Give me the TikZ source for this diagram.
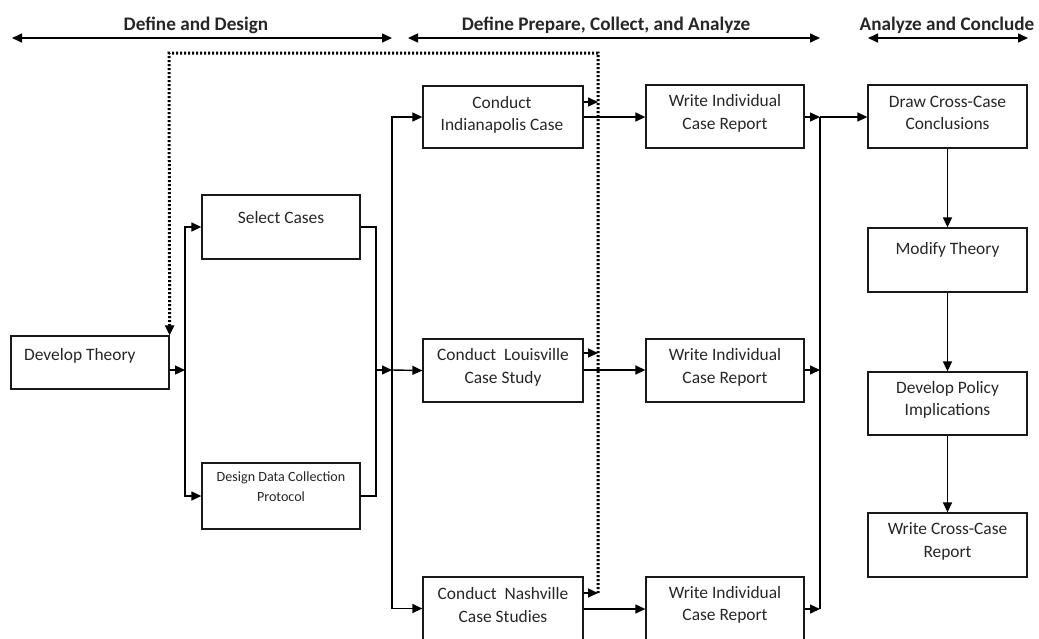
\documentclass[tikz,border=0pt]{standalone}
\usepackage{fontspec}
\setmainfont{Carlito}
\usetikzlibrary{arrows.meta}
\begin{document}
\begin{tikzpicture}[x=1pt,y=-1pt,
  box/.style={draw=black!90,line width=1.3pt,rectangle,inner sep=0pt,
    align=center,text=black!85,font=\fontsize{17.4}{22.5}\selectfont},
  txt/.style={inner sep=0pt,align=center,text=black!85,
    font=\fontsize{17.4}{22.5}\selectfont},
  head/.style={inner sep=0pt,text=black!85,font=\fontsize{19.2}{23}\selectfont\bfseries},
  tip/.style={-{Triangle[length=10pt,width=9pt]}},
  line/.style={draw=black,line width=1.4pt},
  arr/.style={line,tip},
  span/.style={line,{Triangle[length=10pt,width=9pt]}-{Triangle[length=10pt,width=9pt]}},
  dotline/.style={draw=black,line width=3pt,dash pattern=on 2pt off 2pt,
    -{Triangle[length=10pt,width=9pt]}}
]
\useasboundingbox (0,0) rectangle (1039,638);

% phase headers
\node[head] (hA) at (196,25) {Define and Design};
\node[head] (hB) at (606,25) {Define Prepare, Collect, and Analyze};
\node[head] (hC) at (947,25) {Analyze and Conclude};
\coordinate (a1) at (12,38);  \coordinate (a2) at (392,38);
\coordinate (b1) at (408,38); \coordinate (b2) at (820,38);
\coordinate (c1) at (868,38); \coordinate (c2) at (1028,38);
\draw[span] (a1) -- (a2);
\draw[span] (b1) -- (b2);
\draw[span] (c1) -- (c2);

% design stage
\node[box,minimum width=158pt,minimum height=53pt] (theory) at (90,362.5) {};
\node[txt,anchor=west] (theoryT) at (24,356) {Develop Theory};
\node[box,minimum width=158pt,minimum height=64pt] (select) at (281,227) {};
\node[txt] (selectT) at (281,218) {Select Cases};
\node[box,minimum width=158pt,minimum height=66pt] (design) at (281,496) {};
\node[txt,font=\fontsize{14.1}{20}\selectfont] (designT) at (281,487) {Design Data Collection\\Protocol};

% case studies
\node[box,minimum width=160pt,minimum height=62pt] (indy) at (503,117) {};
\node[txt] (indyT) at (502,115) {Conduct\\Indianapolis Case};
\node[box,minimum width=160pt,minimum height=63pt] (louis) at (503,370.5) {};
\node[txt] (louisT) at (503,367.5) {Conduct\ \ Louisville\\Case Study};
\node[box,minimum width=160pt,minimum height=63pt] (nash) at (503,608.5) {};
\node[txt] (nashT) at (503,605) {Conduct\ \ Nashville\\Case Studies};

% individual reports
\node[box,minimum width=158pt,minimum height=63pt] (w1) at (725,116.5) {};
\node[txt] (w1T) at (725,113.5) {Write Individual\\Case Report};
\node[box,minimum width=158pt,minimum height=63pt] (w2) at (725,370.5) {};
\node[txt] (w2T) at (725,367.5) {Write Individual\\Case Report};
\node[box,minimum width=158pt,minimum height=63pt] (w3) at (725,608.5) {};
\node[txt] (w3T) at (725,605) {Write Individual\\Case Report};

% cross-case stage
\node[box,minimum width=159pt,minimum height=63pt] (drawc) at (947.5,116.5) {};
\node[txt] (drawcT) at (947.5,113) {Draw Cross-Case\\Conclusions};
\node[box,minimum width=159pt,minimum height=64pt] (modify) at (947.5,260) {};
\node[txt] (modifyT) at (947.5,250) {Modify Theory};
\node[box,minimum width=159pt,minimum height=63pt] (policy) at (947.5,403.5) {};
\node[txt] (policyT) at (947.5,400) {Develop\ Policy\\Implications};
\node[box,minimum width=159pt,minimum height=64pt] (report) at (947.5,545) {};
\node[txt] (reportT) at (947.5,541.5) {Write Cross-Case\\Report};

% junction points
\coordinate (j1) at (185,370);
\coordinate (j2) at (376,370);
\coordinate (j3) at (392,370);
\coordinate (k1) at (820,117);
\coordinate (k2) at (820,370);
\coordinate (k3) at (820,609);
\coordinate (d1) at (598,102);
\coordinate (d2) at (598,353);
\coordinate (d3) at (598,593);
\coordinate (dtop) at (169,53);

% theory splits into case selection and protocol design
\draw[arr] (theory.east |- j1) -- (j1);
\draw[arr] (j1) |- (select.west);
\draw[arr] (j1) |- (design.west);
\draw[line] (select.east) -| (j2) |- (design.east);
\draw[arr] (j2) -- (j3);
\draw[arr] (j3) |- (indy.west);
\draw[arr] (j3) -- (louis.west);
\draw[arr] (j3) |- (nash.west);

% each case feeds its own report
\draw[arr] (indy.east) -- (w1.west |- indy.east);
\draw[arr] (louis.east |- j3) -- (w2.west |- j3);
\draw[arr] (nash.east |- k3) -- (w3.west |- k3);

% feedback to theory
\draw[arr] (indy.east |- d1) -- (d1);
\draw[arr] (louis.east |- d2) -- (d2);
\draw[arr] (nash.east |- d3) -- (d3);
\draw[dotline] (d3) |- (dtop) -- (theory.north east);

% reports gathered into cross-case analysis
\draw[arr] (w1.east |- k1) -- (k1);
\draw[arr] (w2.east |- k2) -- (k2);
\draw[arr] (w3.east |- k3) -- (k3);
\draw[line] (k1) -- (k3);
\draw[arr] (k1) -- (drawc.west |- k1);
\draw[arr] (drawc.south) -- (modify.north);
\draw[arr] (modify.south) -- (policy.north);
\draw[arr] (policy.south) -- (report.north);
\end{tikzpicture}
\end{document}
